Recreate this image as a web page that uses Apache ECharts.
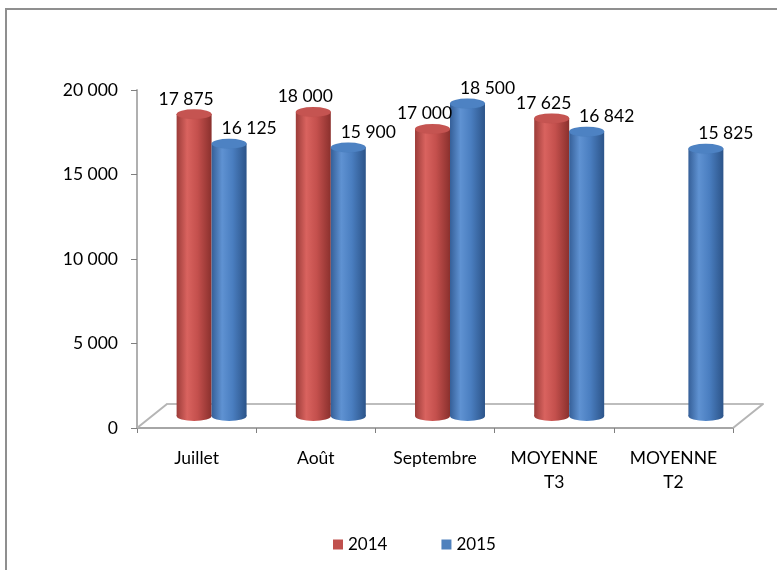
<!DOCTYPE html>
<html>
<head>
<meta charset="utf-8">
<script src="https://cdn.jsdelivr.net/npm/echarts@6/dist/echarts.min.js"></script>
<style>
html,body{margin:0;padding:0;background:#fff;}
#c{width:777px;height:570px;}
</style>
</head>
<body>
<div id="c"></div>
<script>
const categories = ['Juillet', 'Août', 'Septembre', 'MOYENNE\nT3', 'MOYENNE\nT2'];
const seriesNames = ['2014', '2015'];
const values2014 = [17875, 18000, 17000, 17625, null];
const values2015 = [16125, 15900, 18500, 16842, 15825];
const yTicks = { min: 0, max: 20000, interval: 5000 };

const FONT = 'Lato';
const fmt = v => String(v).replace(/\B(?=(\d{3})+(?!\d))/g, ' ');
const baseOf = arr => arr.map((v, i) => v == null ? null : [i, 0]);

function grad(edge, mid, light, edge2) {
  return new echarts.graphic.LinearGradient(0, 0, 1, 0, [
    { offset: 0, color: edge },
    { offset: 0.3, color: light },
    { offset: 0.6, color: mid },
    { offset: 1, color: edge2 }
  ]);
}
const redFill = grad('#9c3c39', '#c4504d', '#d9635f', '#8a302d');
const blueFill = grad('#355f98', '#4a7ec0', '#5f92d2', '#2c5489');

const chart = echarts.init(document.getElementById('c'), null, { renderer: 'canvas' });

const gap = '41.3%';
const BW = 35;
const option = {
  backgroundColor: '#fff',
  animation: false,
  textStyle: { fontFamily: FONT },
  graphic: [
    { type: 'rect', shape: { x: 6, y: 9, width: 820, height: 620 }, style: { fill: null, stroke: '#8f8f8f', lineWidth: 2 }, z: 0 },
    { type: 'line', shape: { x1: 137, y1: 428, x2: 167, y2: 404 }, style: { stroke: '#b5b5b5', lineWidth: 2 }, z: 1 },
    { type: 'line', shape: { x1: 733, y1: 428, x2: 763, y2: 404 }, style: { stroke: '#b5b5b5', lineWidth: 2 }, z: 1 }
  ],
  legend: {
    data: [
      { name: seriesNames[0], itemStyle: { color: '#C0504D' } },
      { name: seriesNames[1], itemStyle: { color: '#4F81BD' } }
    ],
    icon: 'rect',
    itemWidth: 10,
    itemHeight: 10,
    itemGap: 54,
    left: 328,
    top: 531,
    textStyle: { fontFamily: FONT, fontSize: 17, color: '#000' },
    selectedMode: false
  },
  grid: [
    { left: 137, right: 44, top: 90, bottom: 142 },
    { left: 152, right: 29, top: 78, bottom: 154 },
    { left: 167, right: 14, top: 66, bottom: 166 }
  ],
  xAxis: [
    {
      gridIndex: 0, type: 'category', data: categories,
      axisLine: { lineStyle: { color: '#a6a6a6', width: 2 } },
      axisTick: { show: true, length: 5, lineStyle: { color: '#7f7f7f' } },
      axisLabel: { margin: 18, fontSize: 17.5, lineHeight: 24, color: '#000', fontFamily: FONT, interval: 0 }
    },
    { gridIndex: 1, type: 'category', data: categories, show: false },
    {
      gridIndex: 2, type: 'category', data: categories,
      axisLine: { lineStyle: { color: '#bdbdbd', width: 2 } },
      axisTick: { show: false }, axisLabel: { show: false }
    }
  ],
  yAxis: [
    {
      gridIndex: 0, type: 'value', min: yTicks.min, max: yTicks.max, interval: yTicks.interval,
      axisLine: { show: true, lineStyle: { color: '#b0b0b0', width: 2 } },
      axisTick: { show: true, length: 6, lineStyle: { color: '#7f7f7f' } },
      splitLine: { show: false },
      axisLabel: { margin: 19, fontSize: 17.5, color: '#000', fontFamily: FONT, formatter: fmt, padding: [6, 0, 0, 0] }
    },
    { gridIndex: 1, type: 'value', min: yTicks.min, max: yTicks.max, interval: yTicks.interval, show: false, splitLine: { show: false } },
    { gridIndex: 2, type: 'value', min: yTicks.min, max: yTicks.max, interval: yTicks.interval, show: false, splitLine: { show: false } }
  ],
  series: [
    {
      name: seriesNames[0], type: 'bar', xAxisIndex: 1, yAxisIndex: 1,
      data: values2014, barGap: '0%', barCategoryGap: gap,
      itemStyle: { color: redFill }, z: 3,
      label: { show: true, position: 'top', distance: 6, offset: [-8, 0], formatter: p => fmt(p.value), fontSize: 17.5, color: '#000', fontFamily: FONT }
    },
    {
      name: seriesNames[1], type: 'bar', xAxisIndex: 1, yAxisIndex: 1,
      data: values2015, barGap: '0%', barCategoryGap: gap,
      itemStyle: { color: blueFill }, z: 3,
      label: { show: true, position: 'top', distance: 6, offset: [20, 0], formatter: p => fmt(p.value), fontSize: 17.5, color: '#000', fontFamily: FONT }
    },
    {
      name: seriesNames[0], type: 'pictorialBar', xAxisIndex: 1, yAxisIndex: 1,
      data: values2014, barGap: '0%', barCategoryGap: gap,
      symbol: 'circle', symbolSize: ['100%', 10], symbolPosition: 'end', symbolOffset: [0, '-50%'],
      itemStyle: { color: '#c55451', borderColor: '#9a3835', borderWidth: 1 }, z: 4
    },
    {
      name: seriesNames[1], type: 'pictorialBar', xAxisIndex: 1, yAxisIndex: 1,
      data: values2015, barGap: '0%', barCategoryGap: gap,
      symbol: 'circle', symbolSize: ['100%', 10], symbolPosition: 'end', symbolOffset: [0, '-50%'],
      itemStyle: { color: '#4d82c3', borderColor: '#325b92', borderWidth: 1 }, z: 4
    },
    {
      name: seriesNames[0], type: 'scatter', xAxisIndex: 1, yAxisIndex: 1,
      data: baseOf(values2014), symbol: 'circle', symbolSize: [BW, 10], symbolOffset: [-BW / 2, 0],
      itemStyle: { color: redFill, opacity: 1 }, z: 2, silent: true
    },
    {
      name: seriesNames[1], type: 'scatter', xAxisIndex: 1, yAxisIndex: 1,
      data: baseOf(values2015), symbol: 'circle', symbolSize: [BW, 10], symbolOffset: [BW / 2, 0],
      itemStyle: { color: blueFill, opacity: 1 }, z: 2, silent: true
    }
  ]
};
chart.setOption(option);
</script>
</body>
</html>
